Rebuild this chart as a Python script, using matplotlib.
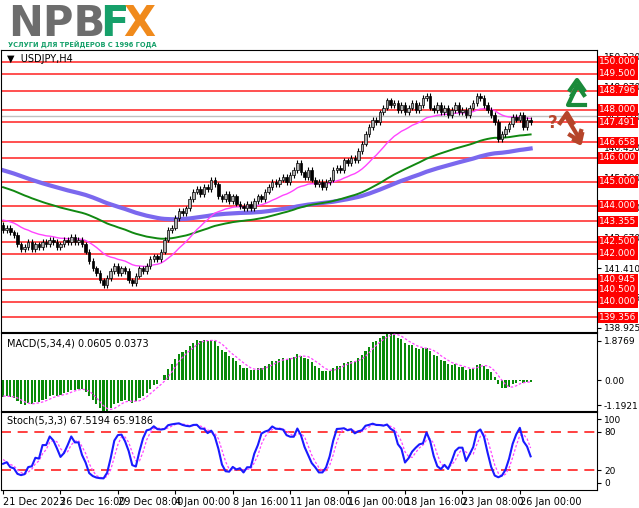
import numpy as np
import pandas as pd
import matplotlib
matplotlib.use("Agg")
import matplotlib.pyplot as plt
from matplotlib.patches import Rectangle

# ---- data ----
history = [147.8, 148.1, 148.4, 148.0, 147.7, 147.4, 147.1, 147.5, 147.2, 146.8,
           146.4, 145.6, 144.6, 143.5, 142.6, 143.8, 144.6, 145.0, 145.2, 144.9,
           145.3, 145.4, 145.0, 145.3, 145.6, 145.3, 145.6, 145.8, 145.4, 145.7,
           145.5, 145.9, 145.6, 145.4, 145.0, 144.6, 144.9, 144.5, 144.2, 143.8,
           143.4, 142.9, 142.6, 142.9, 143.2, 142.8, 142.6, 142.3, 142.7, 142.9,
           143.2, 143.5, 143.3, 143.6, 143.4, 143.2, 143.5, 143.3, 143.1, 143.2]

closes = [143.0, 143.1, 142.9, 142.8,
          142.4, 142.2, 142.3, 142.5, 142.2, 142.4, 142.3, 142.5,
          142.4, 142.6, 142.5, 142.3, 142.4, 142.6, 142.5, 142.7, 142.5, 142.6, 142.4,
          142.1, 141.7, 141.4, 141.2, 140.9, 140.7, 141.0,
          141.3, 141.5, 141.2, 141.4, 141.3,
          140.9, 140.8,
          141.1, 141.4, 141.3, 141.5,
          141.8, 141.9, 141.8,
          142.1, 142.6, 143.0, 143.1, 143.5, 143.8, 143.7, 143.9, 144.3, 144.6,
          144.7, 144.5, 144.8, 144.7, 145.1, 144.9, 144.4, 144.3, 144.5, 144.2,
          144.4, 144.1, 144.0, 143.9, 144.1, 143.9, 144.2, 144.4, 144.3, 144.6,
          144.8, 145.0, 144.9, 145.1, 145.2, 145.0, 145.3, 145.5, 145.8, 145.4,
          145.2, 145.5, 145.1, 144.9, 145.0, 144.8, 145.0, 145.1, 145.5, 145.6,
          145.5, 145.9, 145.8, 146.0, 145.9, 146.3, 146.6, 147.0, 147.3, 147.6,
          147.5, 147.9, 148.1, 148.4, 148.2, 148.3, 148.0, 148.2, 147.9, 148.1,
          148.3, 148.0, 148.2, 148.5, 148.6, 148.1, 148.0, 148.2, 147.9, 148.1,
          147.8, 148.0, 148.2, 147.9, 148.0, 147.8, 148.1, 148.3, 148.6, 148.5,
          148.2, 148.0, 147.8, 147.5, 146.8, 147.0, 147.2, 147.4, 147.7, 147.6,
          147.8, 147.3, 147.6, 147.491]

levels = [150.000, 149.500, 148.796, 148.000, 147.491, 146.658, 146.000, 145.000,
          144.000, 143.355, 142.500, 142.000, 140.945, 140.500, 140.000, 139.356]
axis_ticks = [138.925, 140.185, 141.410, 142.670, 143.930, 145.190, 146.450,
              147.710, 148.970, 150.230]
date_labels = ["21 Dec 2023", "26 Dec 16:00", "29 Dec 08:00", "4 Jan 00:00", "8 Jan 16:00",
               "11 Jan 08:00", "16 Jan 00:00", "18 Jan 16:00", "23 Jan 08:00", "26 Jan 00:00"]
date_pos = [0, 16, 32, 48, 64, 80, 96, 112, 128, 144]

# ---- indicators ----
allc = pd.Series(history + closes)
nh = len(history)
ema21 = allc.ewm(span=21, adjust=False).mean().values[nh:]
ema55 = allc.ewm(span=70, adjust=False).mean().values[nh:]
ema100 = allc.ewm(span=110, adjust=False).mean().values[nh:]
macd = (allc.ewm(span=5, adjust=False).mean() - allc.ewm(span=34, adjust=False).mean())
sig = macd.rolling(4).mean()
macd = macd.values[nh:]
sig = sig.values[nh:]

opens = [history[-1]] + closes[:-1]
c = np.array(closes)
o = np.array(opens)
hi = np.maximum(o, c) + 0.12
lo = np.minimum(o, c) - 0.12
allh = pd.Series(np.concatenate([np.array(history) + 0.3, hi]))
alll = pd.Series(np.concatenate([np.array(history) - 0.3, lo]))
raw = (allc - alll.rolling(5).min()) / (allh.rolling(5).max() - alll.rolling(5).min()) * 100
k = raw.rolling(3).mean()
d = k.rolling(3).mean()
k = k.values[nh:]
d = d.values[nh:]
x = np.arange(len(closes))

# ---- figure ----
fig = plt.figure(figsize=(6.39, 5.08), dpi=100)
W, H = 639, 508
def box(top, bot):
    return [0.002, 1 - bot / H, 597 / W - 0.002, (bot - top) / H]

ax = fig.add_axes(box(50, 332))
am = fig.add_axes(box(333, 411), sharex=ax)
ast = fig.add_axes(box(412, 490), sharex=ax)

for a in (ax, am, ast):
    a.yaxis.tick_right()
    a.tick_params(axis="y", labelsize=6.5, length=3, pad=2)
    a.tick_params(axis="x", length=3)
    for s in a.spines.values():
        s.set_linewidth(0.8)

# price
for lv in levels:
    ax.axhline(lv, color="#ff2020", lw=1.1, zorder=1)
ax.axhline(147.75, color="#c0c0c0", lw=1.0, zorder=1)
ax.plot(x, ema100, color="#7b68ee", lw=3, zorder=2)
ax.plot(x, ema55, color="#118811", lw=1.4, zorder=2)
ax.plot(x, ema21, color="#ff44ff", lw=1.0, zorder=2)
for i in x:
    ax.vlines(i, lo[i], hi[i], color="black", lw=0.8, zorder=3)
    up = c[i] >= o[i]
    b = min(o[i], c[i])
    h = max(abs(c[i] - o[i]), 0.03)
    ax.add_patch(Rectangle((i - 0.35, b), 0.7, h, facecolor="#b0b0b0" if up else "black",
                           edgecolor="black", lw=0.5, zorder=4))
ax.set_xlim(-0.5, 165.5)
ax.set_ylim(138.75, 150.5)
ax.set_yticks(axis_ticks)
ax.set_yticklabels(["%.3f" % t for t in axis_ticks])
for lv in levels:
    ax.text(1.004, lv, "%.3f" % lv, transform=ax.get_yaxis_transform(), fontsize=6.5,
            color="white", va="center", ha="left", clip_on=False, zorder=10,
            bbox=dict(boxstyle="square,pad=0.12", facecolor="#ff0000", edgecolor="none"))
ax.text(0.01, 0.985, "\u25bc  USDJPY,H4", transform=ax.transAxes, fontsize=7, va="top")
plt.setp(ax.get_xticklabels(), visible=False)

# macd
am.bar(x, macd, width=0.6, color="#0a8a0a", zorder=2)
am.plot(x, sig, color="#ff44ff", lw=0.9, ls=(0, (2, 1.5)), zorder=3)
am.set_ylim(-1.2, 1.85)
am.set_yticks([1.55, 0.0, -0.98])
am.set_yticklabels(["1.8769", "0.00", "-1.1921"])
am.text(0.01, 0.93, "MACD(5,34,4) 0.0605 0.0373", transform=am.transAxes, fontsize=7, va="top")
plt.setp(am.get_xticklabels(), visible=False)

# stochastic
ast.axhline(80, color="#ff2020", lw=1.2, ls=(0, (6, 4)))
ast.axhline(20, color="#ff2020", lw=1.2, ls=(0, (6, 4)))
ast.plot(x, d, color="#ff44ff", lw=0.9, ls=(0, (2, 1.5)))
ast.plot(x, k, color="#1a1aff", lw=1.5)
ast.set_ylim(-11, 111)
ast.set_yticks([100, 80, 20, 0])
ast.text(0.01, 0.95, "Stoch(5,3,3) 67.5194 65.9186", transform=ast.transAxes, fontsize=7, va="top")
ast.set_xticks(date_pos)
ast.set_xticklabels(date_labels, fontsize=7, ha="left")
ast.tick_params(axis="x", pad=2)

# logo
fig.text(8 / W, 1 - 36 / H, "NPB", fontsize=30, fontweight="bold", color="#6d6d6d", va="baseline")
fig.text(100 / W, 1 - 36 / H, "F", fontsize=30, fontweight="bold", color="#16a06a", va="baseline")
fig.text(123 / W, 1 - 36 / H, "X", fontsize=30, fontweight="bold", color="#f08a1c", va="baseline")
fig.text(8 / W, 1 - 47 / H, "УСЛУГИ ДЛЯ ТРЕЙДЕРОВ С 1996 ГОДА", fontsize=4.8, fontweight="bold",
         color="#16a06a", va="baseline")

# arrows (figure pixel coords)
def px(pts):
    return [p[0] / W for p in pts], [1 - p[1] / H for p in pts]
g = "#1a8a3a"
for pts in ([(585, 105), (568, 105), (577, 86)], [(570, 90), (577, 80), (584, 90)],
            [(572, 95), (578, 86), (584, 95)]):
    xs, ys = px(pts)
    fig.add_artist(plt.Line2D(xs, ys, color=g, lw=3))
br = "#b5452a"
for pts in ([(567, 118), (579, 138)], [(560, 123), (567, 113), (573, 123)],
            [(574, 140), (580, 143), (582, 134)], [(570, 135), (578, 140), (581, 131)]):
    xs, ys = px(pts)
    fig.add_artist(plt.Line2D(xs, ys, color=br, lw=3))
fig.text(548 / W, 1 - 128 / H, "?", fontsize=12, fontweight="bold", color=br)

fig.savefig("out.png", dpi=100)
